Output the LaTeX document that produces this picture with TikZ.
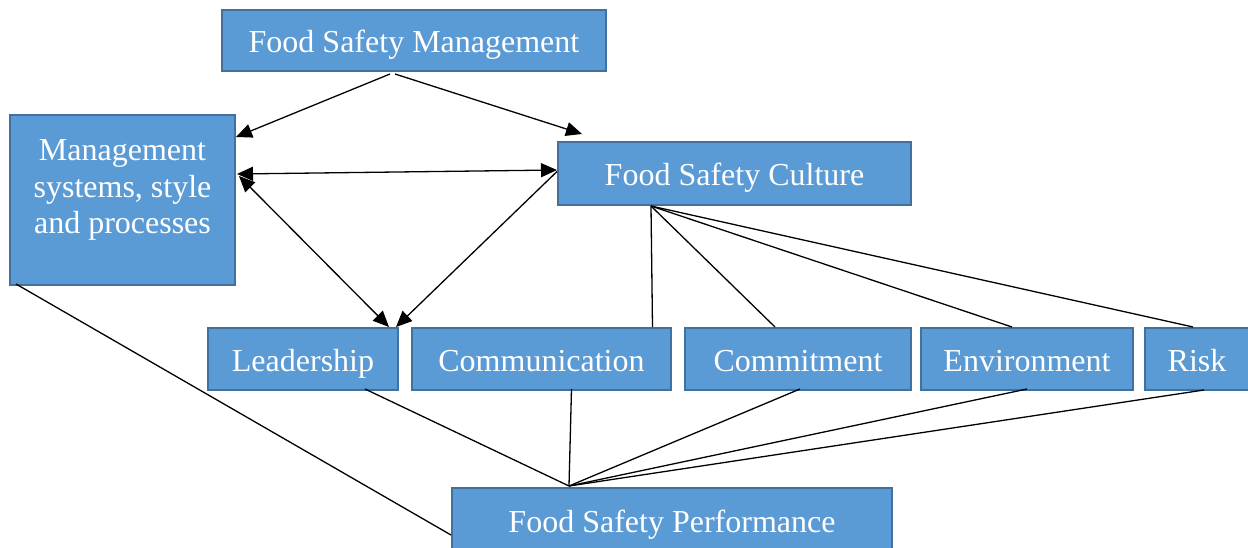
\documentclass[tikz,border=0pt]{standalone}
\usepackage{fontspec}
\setmainfont{Liberation Serif}
\usetikzlibrary{arrows.meta}
\definecolor{boxfill}{HTML}{5B9BD5}
\definecolor{boxline}{HTML}{41719C}
\begin{document}
\begin{tikzpicture}[x=1pt,y=-1pt,
  box/.style={draw=boxline,fill=boxfill,line width=2pt,text=white,inner sep=0pt,
    font=\fontsize{32}{36.5}\selectfont,text height=27pt,text depth=3pt},
  conn/.style={line width=1.3pt,black},
  arr/.style={conn,-{Triangle[length=16pt,width=14pt]}},
  darr/.style={conn,{Triangle[length=16pt,width=14pt]}-{Triangle[length=16pt,width=14pt]}}]
\useasboundingbox (0,0) rectangle (1248,548);
% boxes
\node[box,minimum width=384pt,minimum height=61pt] (fsm) at (414,40.5) {Food Safety Management};
\node[box,minimum width=225pt,minimum height=170pt] (mssp) at (122.5,200) {};
\node[text=white,align=center,font=\fontsize{32}{36.5}\selectfont,inner sep=0pt] (mssptext) at (122.5,190) {Management\\systems, style\\and processes};
\node[box,minimum width=353pt,minimum height=63pt] (fsc) at (734.5,173.5) {Food Safety Culture};
\node[box,minimum width=190pt,minimum height=62pt] (lead) at (303,359) {Leadership};
\node[box,minimum width=259pt,minimum height=62pt] (comm) at (541.5,359) {Communication};
\node[box,minimum width=226pt,minimum height=62pt] (commit) at (798,359) {Commitment};
\node[box,minimum width=212pt,minimum height=62pt] (env) at (1027,359) {Environment};
\node[box,minimum width=104pt,minimum height=62pt] (risk) at (1197,359) {Risk};
\node[box,minimum width=440pt,minimum height=64pt] (fsp) at (672,520) {Food Safety Performance};
% arrows from top
\draw[arr] ([xshift=-24pt,yshift=-2pt]fsm.south) -- ([yshift=-23pt]mssp.north east);
\draw[arr] ([xshift=-19pt,yshift=-2pt]fsm.south) -- ([xshift=25pt,yshift=7pt]fsc.north west);
% double arrows
\draw[darr] ([xshift=1pt,yshift=26pt]mssp.east) -- ([yshift=3.5pt]fsc.west);
\draw[darr] ([xshift=3pt,yshift=24pt]mssp.east) -- ([xshift=-10pt]lead.north east);
\draw[arr] ([yshift=2pt]fsc.west) -- ([xshift=-3pt]lead.north east);
% culture to components
\draw[conn] ([xshift=94pt]fsc.south west) -- ([xshift=111pt]comm.north);
\draw[conn] ([xshift=94pt]fsc.south west) -- ([xshift=-23pt]commit.north);
\draw[conn] ([xshift=94pt]fsc.south west) -- ([xshift=-15pt]env.north);
\draw[conn] ([xshift=94pt]fsc.south west) -- ([xshift=-4pt]risk.north);
% components to performance
\coordinate (fspt) at ([xshift=118pt,yshift=1pt]fsp.north west);
\draw[conn] ([xshift=62pt,yshift=2pt]lead.south) -- (fspt);
\draw[conn] ([xshift=30pt,yshift=2pt]comm.south) -- (fspt);
\draw[conn] ([xshift=2pt,yshift=2pt]commit.south) -- (fspt);
\draw[conn] ([xshift=0pt,yshift=2pt]env.south) -- (fspt);
\draw[conn] ([xshift=7pt,yshift=1pt]risk.south) -- (fspt);
% management systems to performance
\draw[conn] ([xshift=7pt,yshift=2pt]mssp.south west) -- ([yshift=-15pt]fsp.west);
\end{tikzpicture}
\end{document}
